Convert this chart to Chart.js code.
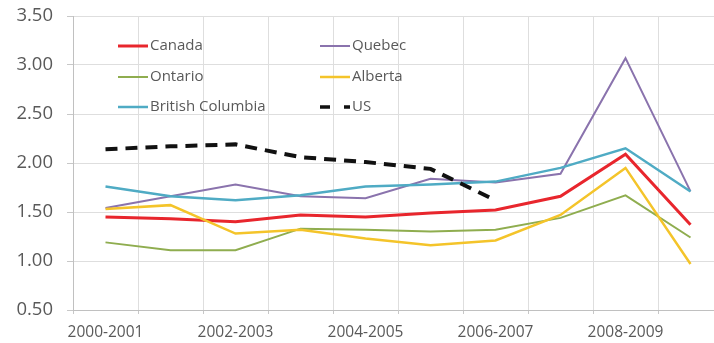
<!DOCTYPE html>
<html>
<head>
<meta charset="utf-8">
<script src="https://cdn.jsdelivr.net/npm/chart.js@4.4.1/dist/chart.umd.min.js"></script>
<style>
  html, body { margin: 0; padding: 0; background: #fff; overflow: hidden; }
  #wrap { position: relative; width: 730px; height: 343px; }
</style>
</head>
<body>
<div id="wrap"><canvas id="c"></canvas></div>
<script>
// Fiscal years on the category axis
const categories = ['2000-2001','2001-2002','2002-2003','2003-2004','2004-2005',
                    '2005-2006','2006-2007','2007-2008','2008-2009','2009-2010'];

// Series values
const canada          = [1.45, 1.43, 1.40, 1.47, 1.45, 1.49, 1.52, 1.66, 2.09, 1.37];
const quebec          = [1.54, 1.66, 1.78, 1.66, 1.64, 1.84, 1.80, 1.89, 3.07, 1.71];
const ontario         = [1.19, 1.11, 1.11, 1.33, 1.32, 1.30, 1.32, 1.44, 1.67, 1.24];
const alberta         = [1.53, 1.57, 1.28, 1.32, 1.23, 1.16, 1.21, 1.47, 1.95, 0.97];
const britishColumbia = [1.76, 1.66, 1.62, 1.67, 1.76, 1.78, 1.81, 1.95, 2.15, 1.71];
const us              = [2.14, 2.17, 2.19, 2.06, 2.01, 1.94, 1.62, null, null, null];

// Value axis range and step
const yMin = 0.5, yMax = 3.5, yStep = 0.5;

const seriesNames = ['Canada', 'Quebec', 'Ontario', 'Alberta', 'British Columbia', 'US'];
const seriesData  = [canada, quebec, ontario, alberta, britishColumbia, us];
const seriesStyle = [
  { color: '#e8262d', width: 3 },
  { color: '#8a73ad', width: 2 },
  { color: '#8fad4f', width: 2 },
  { color: '#f4c42a', width: 2.5 },
  { color: '#4fabc4', width: 2.5 },
  { color: '#111111', width: 4, dash: [12, 8] }
];

const datasets = seriesNames.map((name, i) => ({
  label: name,
  data: seriesData[i],
  borderColor: seriesStyle[i].color,
  backgroundColor: seriesStyle[i].color,
  borderWidth: seriesStyle[i].width,
  borderDash: seriesStyle[i].dash || [],
  pointRadius: 0,
  tension: 0,
  spanGaps: false,
  order: seriesNames.length - i
}));

// Two-column legend drawn inside the plot area
const insideLegend = {
  id: 'insideLegend',
  afterDatasetsDraw(chart) {
    const ctx = chart.ctx;
    const colX = [118, 320];
    const rowY = [46, 77, 107];
    ctx.save();
    ctx.font = '15px "Open Sans", sans-serif';
    ctx.textBaseline = 'middle';
    ctx.textAlign = 'left';
    chart.data.datasets.forEach((ds, i) => {
      const x = colX[i % 2];
      const y = rowY[Math.floor(i / 2)];
      ctx.beginPath();
      ctx.strokeStyle = ds.borderColor;
      ctx.lineWidth = Math.min(ds.borderWidth, 3.5);
      ctx.setLineDash(ds.borderDash && ds.borderDash.length ? [10, 14] : []);
      ctx.moveTo(x, y);
      ctx.lineTo(x + 30, y);
      ctx.stroke();
      ctx.setLineDash([]);
      ctx.fillStyle = '#595959';
      ctx.fillText(ds.label, x + 32, y);
    });
    ctx.restore();
  }
};

new Chart(document.getElementById('c'), {
  type: 'line',
  data: { labels: categories, datasets },
  plugins: [insideLegend],
  options: {
    responsive: true,
    maintainAspectRatio: false,
    animation: false,
    layout: { padding: { top: 16, right: 7, bottom: 0, left: 0 } },
    plugins: { legend: { display: false }, tooltip: { enabled: false } },
    scales: {
      x: {
        type: 'category',
        offset: true,
        grid: { offset: true, color: '#dedede', tickColor: '#c8c8c8', tickLength: 4 },
        border: { color: '#c0c0c0', width: 1 },
        ticks: {
          autoSkip: false,
          maxRotation: 0,
          padding: 9,
          color: '#595959',
          font: { family: '"Open Sans", sans-serif', size: 15.5 },
          callback: (v, i) => (i % 2 === 0 ? categories[i] : '')
        },
        afterFit: (s) => { s.height = 33; s.paddingLeft = 0; s.paddingRight = 0; }
      },
      y: {
        min: yMin,
        max: yMax,
        grid: { color: '#dedede', tickColor: '#c8c8c8', tickLength: 6 },
        border: { color: '#c0c0c0', width: 1 },
        ticks: {
          stepSize: yStep,
          padding: 14,
          color: '#595959',
          font: { family: '"Open Sans", sans-serif', size: 18.5 },
          callback: (v) => Number(v).toFixed(2)
        },
        afterFit: (s) => { s.width = 73; s.paddingTop = 0; s.paddingBottom = 0; }
      }
    }
  }
});
</script>
</body>
</html>
